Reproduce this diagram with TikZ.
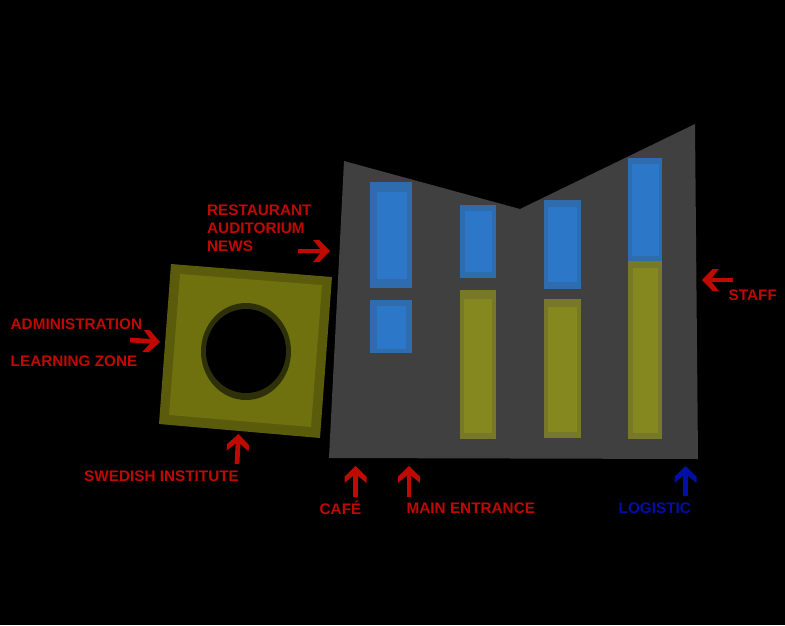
\documentclass[tikz,border=0pt]{standalone}
\usepackage{fontspec}
\setmainfont{Liberation Sans}
\usetikzlibrary{arrows.meta}
\pgfdeclarearrow{
  name=VHead,
  setup code={
    \pgfarrowssettipend{0pt}
    \pgfarrowssetlineend{-9pt}
    \pgfarrowssetvisualbackend{-9pt}
    \pgfarrowssetbackend{-16.9pt}
    \pgfarrowshullpoint{0pt}{0pt}
    \pgfarrowshullpoint{-16.9pt}{11pt}
    \pgfarrowshullpoint{-16.9pt}{-11pt}
  },
  drawing code={
    \pgfpathmoveto{\pgfqpoint{0pt}{0pt}}
    \pgfpathlineto{\pgfqpoint{-10.7pt}{11pt}}
    \pgfpathlineto{\pgfqpoint{-16.9pt}{11pt}}
    \pgfpathlineto{\pgfqpoint{-10pt}{2.4pt}}
    \pgfpathlineto{\pgfqpoint{-10pt}{-2.4pt}}
    \pgfpathlineto{\pgfqpoint{-16.9pt}{-11pt}}
    \pgfpathlineto{\pgfqpoint{-10.7pt}{-11pt}}
    \pgfpathclose
    \pgfusepathqfill
  }
}
\definecolor{bldg}{HTML}{404040}
\definecolor{oliveA}{HTML}{5A5C0B}
\definecolor{oliveB}{HTML}{6E710E}
\definecolor{ringC}{HTML}{2E300A}
\definecolor{blueA}{HTML}{2F6CAE}
\definecolor{blueB}{HTML}{2C77C8}
\definecolor{ylwA}{HTML}{77782A}
\definecolor{ylwB}{HTML}{85881F}
\definecolor{redC}{HTML}{BE0A00}
\definecolor{blueC}{HTML}{000FA6}
\tikzset{
  lbl/.style={anchor=base west,inner sep=0pt,font=\fontsize{15.3}{15.3}\selectfont\bfseries,text=redC},
  lblblue/.style={lbl,text=blueC},
  arrowline/.style={draw=redC,line width=4.8pt,-{VHead}},
  arrowblue/.style={arrowline,draw=blueC},
}
\begin{document}
\begin{tikzpicture}[x=1pt,y=-1pt]
\fill[black] (0,0) rectangle (785,625);
\useasboundingbox (0,0) rectangle (785,625);
% building
\fill[bldg] (344,161) -- (520,209) -- (695,124) -- (698,459) -- (329,458) -- cycle;
% blue rooms
\fill[blueA] (370,182) rectangle (412,288);
\fill[blueB] (377,192) rectangle (407,279);
\fill[blueA] (370,300) rectangle (412,353);
\fill[blueB] (377,306) rectangle (406,349);
\fill[blueA] (460,205) rectangle (496,278);
\fill[blueB] (465,211) rectangle (492,272);
\fill[blueA] (544,200) rectangle (581,289);
\fill[blueB] (548,207) rectangle (577,282);
\fill[blueA] (628,158) rectangle (662,261);
\fill[blueB] (632,164) rectangle (659,256);
% olive rooms
\fill[ylwA] (460,290) rectangle (496,439);
\fill[ylwB] (464,299) rectangle (492,433);
\fill[ylwA] (544,299) rectangle (581,438);
\fill[ylwB] (548,307) rectangle (577,432);
\fill[ylwA] (628,261) rectangle (662,439);
\fill[ylwB] (633,268) rectangle (658,433);
% square block
\fill[oliveA] (171,264) -- (332,277) -- (320,438) -- (159,424) -- cycle;
\fill[oliveB] (180,274) -- (322,285) -- (311,427) -- (169,415) -- cycle;
\fill[ringC] (246,351.5) ellipse [x radius=45,y radius=48.5];
\fill[black] (246,351) ellipse [x radius=40,y radius=42];
% labels
\node[lbl] (restaurant) at (207,215) {RESTAURANT};
\node[lbl] (auditorium) at (207,233) {AUDITORIUM};
\node[lbl] (news) at (207,251) {NEWS};
\node[lbl] (admin) at (10.5,329) {ADMINISTRATION};
\node[lbl] (learning) at (10.5,366) {LEARNING ZONE};
\node[lbl] (swedish) at (84,481) {SWEDISH INSTITUTE};
\node[lbl] (cafe) at (319.5,514) {CAFÉ};
\node[lbl] (entrance) at (406.5,513) {MAIN ENTRANCE};
\node[lblblue] (logistic) at (618.5,513) {LOGISTIC};
\node[lbl] (staff) at (728.5,300) {STAFF};
% arrow ends
\coordinate (a1s) at (298,251); \coordinate (a1e) at (330,251);
\coordinate (a2s) at (130,340); \coordinate (a2e) at (160,342);
\coordinate (a3s) at (237,464); \coordinate (a3e) at (238.5,434);
\coordinate (a4s) at (355.5,497); \coordinate (a4e) at (355.5,466);
\coordinate (a5s) at (409,497); \coordinate (a5e) at (409,466);
\coordinate (a6s) at (685.5,496); \coordinate (a6e) at (685.5,466);
\coordinate (a7s) at (733,280); \coordinate (a7e) at (702,280);
\draw[arrowline] (a1s) -- (a1e);
\draw[arrowline] (a2s) -- (a2e);
\draw[arrowline] (a3s) -- (a3e);
\draw[arrowline] (a4s) -- (a4e);
\draw[arrowline] (a5s) -- (a5e);
\draw[arrowblue] (a6s) -- (a6e);
\draw[arrowline] (a7s) -- (a7e);
\end{tikzpicture}
\end{document}
